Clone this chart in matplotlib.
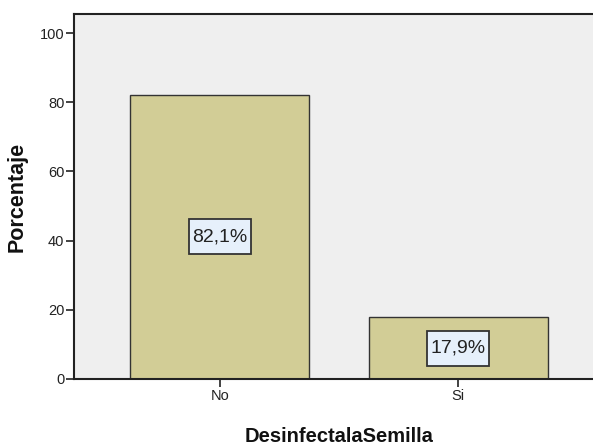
import matplotlib
matplotlib.use("Agg")
import matplotlib.pyplot as plt
import matplotlib.transforms as mtransforms
from matplotlib.patches import Rectangle

# Data
categories = ["No", "Si"]
percentages = [82.1, 17.9]
value_labels = ["82,1%", "17,9%"]
y_ticks = [0, 20, 40, 60, 80, 100]

plt.rcParams["font.family"] = ["Liberation Sans", "DejaVu Sans"]

fig = plt.figure(figsize=(5.93, 4.46), dpi=100)
ax = fig.add_axes([74 / 593, 1 - 379 / 446, (604 - 74) / 593, (379 - 14) / 446])
ax.set_facecolor("#efefef")

x = list(range(len(categories)))
ax.bar(x, percentages, width=0.75, color="#d2cd96", edgecolor="#333333",
       linewidth=1.0, zorder=2)

# value labels in light-blue boxes, centred at half bar height
for xi, val, lab in zip(x, percentages, value_labels):
    anchor = fig.dpi_scale_trans + mtransforms.ScaledTranslation(xi, val / 2, ax.transData)
    ax.add_patch(Rectangle((-0.31, -0.175), 0.62, 0.35, transform=anchor,
                           facecolor="#e6f0fb", edgecolor="#333333",
                           linewidth=1.3, zorder=3))
    ax.text(xi, val / 2, lab, ha="center", va="center", fontsize=14,
            color="#222222", zorder=4)

ax.set_xlim(-0.61, 1.61)
ax.set_ylim(0, 105.5)
ax.set_xticks(x)
ax.set_xticklabels(categories, fontsize=10.5)
ax.set_yticks(y_ticks)
ax.set_yticklabels([str(t) for t in y_ticks], fontsize=10.5)
ax.tick_params(axis="both", direction="out", length=6, width=1.2,
               color="#222222", labelcolor="#222222", pad=1)

for side in ("left", "bottom", "top"):
    ax.spines[side].set_color("#222222")
    ax.spines[side].set_linewidth(1.5)
ax.spines["right"].set_visible(False)

fig.text(17.5 / 593, 1 - 196.5 / 446, "Porcentaje", rotation=90,
         ha="center", va="center", fontsize=15.5, fontweight="bold",
         color="#111111")
fig.text(339 / 593, 1 - 436 / 446, "DesinfectalaSemilla",
         ha="center", va="center", fontsize=14.5, fontweight="bold",
         color="#111111")

fig.savefig("out.png", dpi=100)
